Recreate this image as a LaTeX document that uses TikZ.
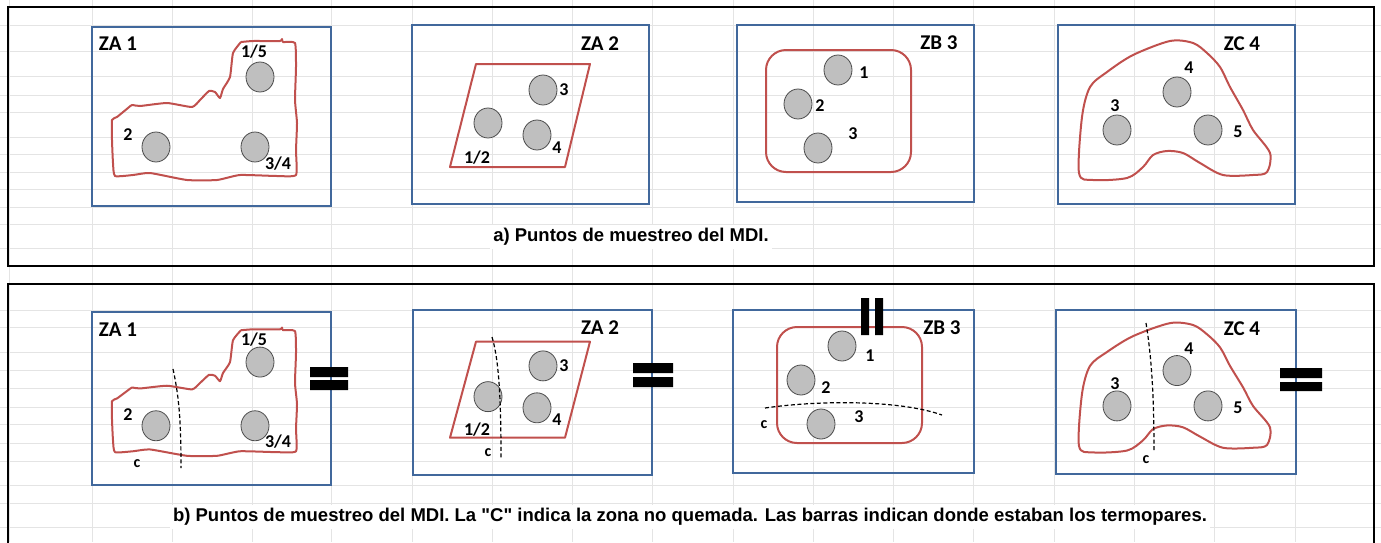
\documentclass[tikz,border=0pt]{standalone}
\usepackage{fontspec}
\newfontfamily\arialfont{Liberation Sans}
\newfontfamily\calibri{Carlito}
\usetikzlibrary{shapes.geometric}
\definecolor{zoneblue}{HTML}{41689C}
\definecolor{burnred}{HTML}{C0504D}
\definecolor{gridgray}{HTML}{E4E4E4}
\definecolor{dotgray}{HTML}{BFBFBF}
\tikzset{
  panel/.style={draw=zoneblue,line width=2.5pt},
  frame/.style={draw=black,line width=2pt},
  burnt/.style={draw=burnred,line width=2pt,line join=round},
  tc/.style={ellipse,draw=black!70,fill=dotgray,line width=.8pt,minimum width=28pt,minimum height=30pt,inner sep=0pt},
  zlabel/.style={font=\calibri\bfseries\fontsize{21}{21}\selectfont,inner sep=0pt},
  num/.style={font=\calibri\bfseries\fontsize{18}{18}\selectfont,inner sep=0pt},
  cmark/.style={font=\calibri\bfseries\fontsize{16}{16}\selectfont,inner sep=0pt},
  unburnt/.style={line width=1.2pt,dash pattern=on 4pt off 2.5pt},
  caption/.style={font=\arialfont\bfseries\fontsize{18.5}{18.5}\selectfont,fill=white,inner sep=3pt},
  bar/.style={fill=black}
}
\begin{document}
\begin{tikzpicture}[x=1pt,y=-1pt]
\useasboundingbox (0,0) rectangle (1381,542);
% hoja de fondo
\foreach \gx in {9,92,172,252,331,412,492,572,652,733,813,893,973,1054,1134,1214,1295}
  \draw[gridgray,line width=1pt] (\gx,0) -- (\gx,542);
\foreach \gy in {25,51,76,95,112,137,154,172,189,207,224,248,310,327,352,370,388,407,424,443,461,485,503,527}
  \draw[gridgray,line width=1pt] (0,\gy) -- (1381,\gy);
\draw[frame] (8,7) rectangle (1374,266);
\draw[frame] (8,560) -- (8,284) -- (1374,284) -- (1374,560);

% recuadros de zona
\draw[panel] (92,27) rectangle (331,206);
\draw[panel] (412,25) rectangle (649,204);
\draw[panel] (737,25) rectangle (974,202);
\draw[panel] (1058,25) rectangle (1295,204);
\draw[panel] (92,312) rectangle (331,485);
\draw[panel] (413,310) rectangle (652,475);
\draw[panel] (733,310) rectangle (974,473);
\draw[panel] (1056,310) rectangle (1296,474);
\node[zlabel] (za1a) at (118,44) {ZA 1};
\node[zlabel] (za2a) at (600,44) {ZA 2};
\node[zlabel] (zb3a) at (939,43) {ZB 3};
\node[zlabel] (zc4a) at (1242,44) {ZC 4};
\node[zlabel] (za1b) at (118,330) {ZA 1};
\node[zlabel] (za2b) at (600,328) {ZA 2};
\node[zlabel] (zb3b) at (942,328) {ZB 3};
\node[zlabel] (zc4b) at (1242,329) {ZC 4};

% ZA 1
\foreach \dy/\sy/\r in {0/1/a,292/.91/b}{
  \begin{scope}[shift={(0,\dy)},yscale=\sy]
    \draw[burnt] plot[smooth,tension=.3] coordinates{(241,42) (253,41) (280,41) (282,39) (283,42) (295,43)
      (296,67) (295,100) (297,123) (296,150) (296,175) (277,176) (240,175) (217,180) (187,180) (150,173)
      (133,175) (115,176) (113,163) (112,140) (112,120) (117,117) (128,108) (132,105) (140,106) (167,103)
      (192,107) (200,100) (209,91) (215,92) (220,98) (223,89) (230,77) (233,53) (241,42)};
    \node[tc] (za1\r-p1) at (260,77) {};
    \node[tc] (za1\r-p2) at (156,147) {};
    \node[tc] (za1\r-p3) at (255,147) {};
    \node[num] (za1\r-n1) at (254,52) {1/5};
    \node[num] (za1\r-n2) at (128,135) {2};
    \node[num] (za1\r-n3) at (278,164) {3/4};
  \end{scope}}
% ZA 2
\foreach \dy/\sy/\r in {0/1/a,282/.932/b}{
  \begin{scope}[shift={(0,\dy)},yscale=\sy]
    \draw[burnt] (476,64) -- (590,64) -- (565,167) -- (450,167) -- cycle;
    \node[tc] (za2\r-p1) at (488,123) {};
    \node[tc] (za2\r-p2) at (543,90) {};
    \node[tc] (za2\r-p3) at (537,135) {};
    \node[num] (za2\r-n1) at (564,90) {3};
    \node[num] (za2\r-n2) at (557,148) {4};
    \node[num] (za2\r-n3) at (477,158) {1/2};
  \end{scope}}
% ZB 3
\draw[burnt,rounded corners=20pt] (766,50) rectangle (911,172);
\node[tc] (zb3a-p1) at (838,70) {};
\node[tc] (zb3a-p2) at (798,104) {};
\node[tc] (zb3a-p3) at (818,148) {};
\node[num] (zb3a-n1) at (864,73) {1};
\node[num] (zb3a-n2) at (820,106) {2};
\node[num] (zb3a-n3) at (853,134) {3};
\draw[burnt,rounded corners=20pt] (777,327) rectangle (922,443);
\node[tc] (zb3b-p1) at (842,346) {};
\node[tc] (zb3b-p2) at (801,380) {};
\node[tc] (zb3b-p3) at (821,424) {};
\node[num] (zb3b-n1) at (870,356) {1};
\node[num] (zb3b-n2) at (826,388) {2};
\node[num] (zb3b-n3) at (859,417) {3};
% ZC 4
\foreach \dy/\sy/\r in {0/1/a,285/.93/b}{
  \begin{scope}[shift={(0,\dy)},yscale=\sy]
    \draw[burnt] plot[smooth cycle,tension=.5] coordinates{(1079,173) (1082,117) (1090,87) (1107,72) (1133,55)
      (1170,41) (1193,43) (1207,53) (1220,67) (1230,87) (1243,110) (1253,130) (1270,153) (1267,172)
      (1253,175) (1223,175) (1200,163) (1183,153) (1167,151) (1153,155) (1143,167) (1127,178) (1093,180)};
    \node[tc] (zc4\r-p1) at (1117,130) {};
    \node[tc] (zc4\r-p2) at (1177,92) {};
    \node[tc] (zc4\r-p3) at (1208,130) {};
    \node[num] (zc4\r-n1) at (1115,106) {3};
    \node[num] (zc4\r-n2) at (1189,68) {4};
    \node[num] (zc4\r-n3) at (1238,132) {5};
  \end{scope}}

% zona no quemada
\draw[unburnt] (173,369) .. controls (180,400) and (181,430) .. (181,468);
\node[cmark] (za1c) at (137,464) {c};
\draw[unburnt] (492,337) .. controls (499,360) and (501,400) .. (501,458);
\node[cmark] (za2c) at (488,453) {c};
\draw[unburnt] (765,408) .. controls (820,400) and (900,400) .. (942,415);
\node[cmark] (zb3c) at (764,425) {c};
\draw[unburnt] (1146,323) .. controls (1152,360) and (1154,400) .. (1154,452);
\node[cmark] (zc4c) at (1146,460) {c};

% barras de los termopares
\fill[bar] (310,367) rectangle (348,377) (310,380) rectangle (348,390);
\fill[bar] (633,363) rectangle (673,373) (633,377) rectangle (673,387);
\fill[bar] (861,298) rectangle (869,335) (875,298) rectangle (883,335);
\fill[bar] (1280,368) rectangle (1322,378) (1280,382) rectangle (1322,391);

\node[caption] (capa) at (631,237) {a) Puntos de muestreo del MDI.};
\node[caption] (capb) at (690,517) {b) Puntos de muestreo del MDI. La "C" indica la zona no quemada. Las barras indican donde estaban los termopares.};
\end{tikzpicture}
\end{document}
